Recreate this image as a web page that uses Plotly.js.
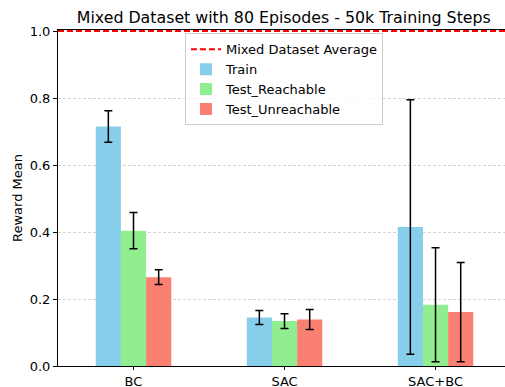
<!DOCTYPE html>
<html>
<head>
<meta charset="utf-8">
<script src="https://cdn.plot.ly/plotly-3.0.1.min.js"></script>
<style>html,body{margin:0;padding:0;background:#fff;}#chart{width:505px;height:387px;}</style>
</head>
<body>
<div id="chart"></div>
<script>
const methods = ["BC", "SAC", "SAC+BC"];
const trainMean = [0.715, 0.145, 0.415];
const trainErr = [0.047, 0.021, 0.380];
const reachMean = [0.404, 0.134, 0.183];
const reachErr = [0.054, 0.022, 0.170];
const unreachMean = [0.265, 0.139, 0.161];
const unreachErr = [0.022, 0.030, 0.148];
const avgX = [-0.5, 2.5];
const avgY = [1.0, 1.0];

const font = {family: "DejaVu Sans", size: 13, color: "#000"};
const xIdx = methods.map((m, i) => i);
function barTrace(name, y, e, color) {
  return {
    type: "bar", name: name, x: xIdx, y: y,
    marker: {color: color},
    error_y: {type: "data", array: e, visible: true, color: "#000", thickness: 1.5, width: 4}
  };
}
const traces = [
  {type: "scatter", mode: "lines", name: "Mixed Dataset Average", x: avgX, y: avgY,
   line: {color: "red", width: 2, dash: "6px,3px"}},
  barTrace("Train", trainMean, trainErr, "#87CEEB"),
  barTrace("Test_Reachable", reachMean, reachErr, "#90EE90"),
  barTrace("Test_Unreachable", unreachMean, unreachErr, "#FA8072")
];
const layout = {
  width: 505, height: 387,
  margin: {l: 58, r: 0, t: 30, b: 21},
  paper_bgcolor: "#fff", plot_bgcolor: "#fff",
  font: font,
  title: {text: "Mixed Dataset with 80 Episodes - 50k Training Steps", font: {family: "DejaVu Sans", size: 15.8, color: "#000"}, x: 0.562, xanchor: "center", y: 0.968, yanchor: "top"},
  barmode: "group", bargap: 0.5, bargroupgap: 0,
  xaxis: {range: [-0.5, 2.46], tickvals: xIdx, ticktext: methods, showline: true, linecolor: "#000", linewidth: 1, mirror: true,
          ticks: "outside", ticklen: 3, tickcolor: "#000", showgrid: false, zeroline: false, layer: "below traces", tickfont: font},
  yaxis: {range: [0, 1.003], tickvals: [0, 0.2, 0.4, 0.6, 0.8, 1.0], ticktext: ["0.0", "0.2", "0.4", "0.6", "0.8", "1.0"],
          showline: true, linecolor: "#000", linewidth: 1, ticks: "outside", ticklen: 4, tickcolor: "#000",
          showgrid: true, gridcolor: "#d4d4d4", griddash: "3px,2px", gridwidth: 1, zeroline: false, layer: "below traces",
          title: {text: "Reward Mean", font: font, standoff: 4}, tickfont: font},
  legend: {x: 0.284, xanchor: "left", y: 0.99, yanchor: "top", bgcolor: "rgba(255,255,255,0.8)", bordercolor: "#cccccc", borderwidth: 1,
           font: font, traceorder: "normal", tracegroupgap: 0},
  showlegend: true
};
Plotly.newPlot("chart", traces, layout, {displayModeBar: false, staticPlot: true});
</script>
</body>
</html>
